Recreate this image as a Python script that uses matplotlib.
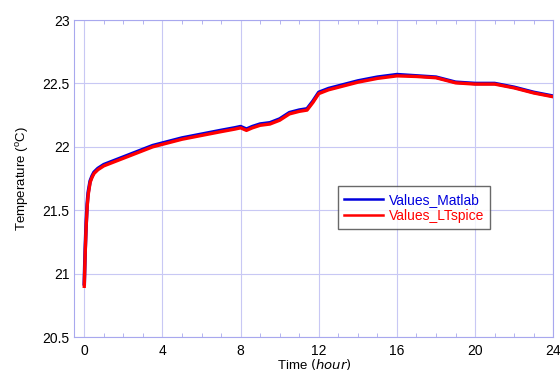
import matplotlib.pyplot as plt
from matplotlib.ticker import MultipleLocator

# time (hour) and temperatures
hours = [0, 0.05, 0.1, 0.15, 0.2, 0.3, 0.4, 0.5, 0.7, 1, 1.5, 2, 2.5, 3, 3.5, 4,
         5, 6, 7, 7.7, 8, 8.3, 8.6, 9, 9.5, 10, 10.5, 11, 11.4, 11.7, 12, 12.5,
         13, 14, 15, 16, 17, 18, 19, 20, 21, 22, 23, 24]
temp_matlab = [20.92, 21.2, 21.4, 21.55, 21.64, 21.73, 21.77, 21.80, 21.83, 21.86,
               21.89, 21.92, 21.95, 21.98, 22.01, 22.03, 22.07, 22.10, 22.13, 22.15,
               22.16, 22.14, 22.16, 22.18, 22.19, 22.22, 22.27, 22.29, 22.30, 22.36,
               22.43, 22.46, 22.48, 22.52, 22.55, 22.57, 22.56, 22.55, 22.51, 22.50,
               22.50, 22.47, 22.43, 22.40]
temp_ltspice = [20.90, 21.17, 21.38, 21.53, 21.62, 21.72, 21.76, 21.79, 21.82, 21.85,
                21.88, 21.91, 21.94, 21.97, 22.00, 22.02, 22.06, 22.09, 22.12, 22.14,
                22.15, 22.13, 22.15, 22.17, 22.18, 22.21, 22.26, 22.28, 22.29, 22.35,
                22.42, 22.45, 22.47, 22.51, 22.54, 22.56, 22.555, 22.545, 22.505, 22.495,
                22.495, 22.465, 22.425, 22.395]

plt.rcParams['font.family'] = ['Liberation Sans', 'DejaVu Sans']

fig = plt.figure(figsize=(5.6, 3.72), dpi=100)
ax = fig.add_axes([0.133, 0.094, 0.855, 0.852])

ax.plot(hours, temp_matlab, color='#0000dd', lw=2.6, label='Values_Matlab')
ax.plot(hours, temp_ltspice, color='#ff0000', lw=2.4, label='Values_LTspice')

ax.set_xlim(-0.5, 24)
ax.set_ylim(20.5, 23)
ax.xaxis.set_major_locator(MultipleLocator(4))
ax.xaxis.set_minor_locator(MultipleLocator(1))
ax.yaxis.set_major_locator(MultipleLocator(0.5))
ax.yaxis.set_major_formatter(plt.FuncFormatter(lambda v, p: '%g' % v))

ax.grid(True, color='#c8c8f4', lw=0.8)
for s in ax.spines.values():
    s.set_color('#a8a8ee')
ax.tick_params(which='both', direction='in', top=True, color='#a8a8ee',
               labelsize=10, length=0)
ax.tick_params(which='minor', length=3)
ax.tick_params(axis='x', pad=5)

ax.set_xlabel('Time $\\it{(hour)}$', fontsize=9.5, labelpad=-1)
ax.set_ylabel('Temperature ($\\mathregular{^{o}}$C)', fontsize=9.5, labelpad=8)

leg = ax.legend(loc='upper left', bbox_to_anchor=(0.55, 0.475), fontsize=10,
                frameon=True, fancybox=False, handlelength=2.8, handletextpad=0.4,
                borderpad=0.45, labelspacing=0.15, borderaxespad=0)
leg.get_frame().set_edgecolor('#444444')
leg.get_frame().set_linewidth(1.0)
for h in leg.legend_handles:
    h.set_linewidth(1.8)
for txt, c in zip(leg.get_texts(), ['#0000dd', '#ff0000']):
    txt.set_color(c)

fig.savefig('out.png', dpi=100)
